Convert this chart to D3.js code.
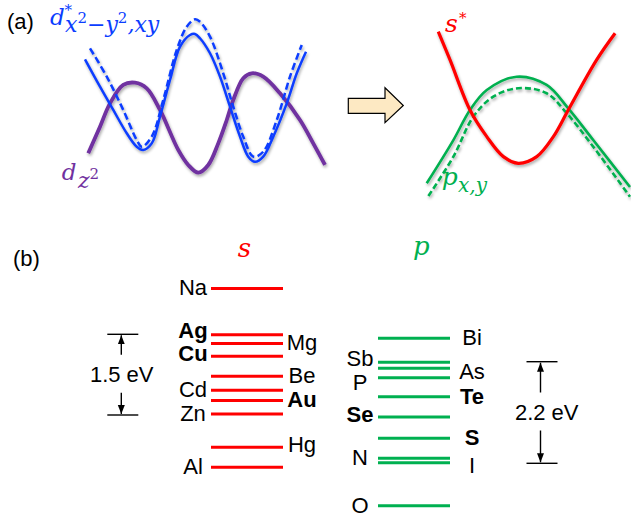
<!DOCTYPE html>
<html>
<head>
<meta charset="utf-8">
<script src="https://cdn.jsdelivr.net/npm/d3@7"></script>
<style>
  body { margin: 0; background: #fff; }
  svg { display: block; }
</style>
</head>
<body>
<div id="chart"></div>
<script>
// Panel (a): schematic bands, [k, E] in arbitrary units (0-10)
var dxySolid = [[0.2,7.54],[0.8,5.83],[1.33,4.38],[1.87,2.92],[2.27,2.08],[2.53,1.88],[2.87,2.29],[3.2,3.96],
  [3.6,6.25],[4.0,8.33],[4.4,9.06],[4.6,9.13],[4.8,8.86],[5.2,7.92],[5.6,6.46],[6.0,4.58],[6.4,2.71],
  [6.73,1.46],[7.0,1.14],[7.33,1.46],[7.73,2.71],[8.27,4.79],[8.67,6.67],[9.04,8.02]];
var dxyDashed = [[0.4,8.23],[1.07,6.46],[1.73,4.38],[2.27,2.5],[2.47,2.08],[2.87,2.71],[3.33,5.0],[3.87,8.13],
  [4.27,9.58],[4.6,10.04],[4.8,9.89],[5.2,8.96],[5.73,6.67],[6.13,4.58],[6.53,2.71],[6.93,1.46],[7.33,1.77],
  [7.87,3.75],[8.4,6.46],[8.87,8.44]];
var dz2Band = [[0.33,1.67],[0.8,3.33],[1.2,4.79],[1.73,5.94],[2.2,6.08],[2.67,5.73],[3.2,4.38],[3.93,1.88],
  [4.33,0.94],[4.73,0.46],[5.13,0.94],[5.53,2.29],[5.87,3.75],[6.13,5.0],[6.53,6.36],[6.87,6.67],[7.33,6.46],
  [8.0,5.42],[8.8,3.75],[9.33,2.29],[9.8,0.94]];
var sBand = [[0.87,9.35],[1.43,7.78],[2.38,5.0],[3.18,3.52],[3.97,2.41],[4.68,2.04],[5.56,2.41],[6.35,3.52],
  [7.06,5.0],[8.41,7.78],[9.29,9.26]];
var pSolid = [[0.32,0.93],[1.59,3.33],[2.38,5.0],[3.18,6.11],[4.6,6.85],[6.03,6.39],[7.06,5.09],[8.25,3.33],[10,0.72]];
var pDashed = [[0.4,0.22],[1.59,2.41],[2.54,4.63],[3.49,5.74],[4.68,6.21],[6.03,5.93],[6.99,4.82],[8.25,2.96],[10,0.18]];

// Panel (b): level energies (eV)
var sNames = ["Na", "Ag", "Mg", "Cu", "Be", "Cd", "Au", "Zn", "Hg", "Al"];
var sEnergy = [2.35, 1.49, 1.33, 1.09, 0.72, 0.46, 0.27, 0.02, -0.60, -0.97];
var sSide = ["L", "L", "R", "L", "R", "L", "R", "L", "R", "L"];
var pNames = ["Bi", "Sb", "As", "P", "Te", "Se", "S", "N", "I", "O"];
var pEnergy = [2.71, 2.19, 2.06, 1.85, 1.44, 1.00, 0.54, 0.11, 0.01, -0.92];
var pSide = ["R", "L", "R", "L", "R", "L", "R", "L", "R", "L"];
var boldNames = ["Ag", "Cu", "Au", "Te", "Se", "S"];
var scaleBarEv = [1.5, 2.2];

var svgWidth = 631;
var svgHeight = 520;
var sans = "'Liberation Sans', Arial, Helvetica, sans-serif";
var serif = "'DejaVu Serif', 'Liberation Serif', serif";
var blue = "#0a3dff", purple = "#7030a0", red = "#ff0000", green = "#00b050";

var svg = d3.select("#chart").append("svg")
  .attr("width", svgWidth)
  .attr("height", svgHeight)
  .style("background", "#fff");

// soft grey shadow like the original drawing
var defs = svg.append("defs");
var filt = defs.append("filter").attr("id", "shadow")
  .attr("x", "-10%").attr("y", "-10%").attr("width", "120%").attr("height", "120%");
filt.append("feGaussianBlur").attr("in", "SourceAlpha").attr("stdDeviation", 1.6).attr("result", "blur");
filt.append("feOffset").attr("in", "blur").attr("dx", 1).attr("dy", 1.5).attr("result", "off");
filt.append("feComponentTransfer").attr("in", "off").attr("result", "soft")
  .append("feFuncA").attr("type", "linear").attr("slope", 0.35);
var merge = filt.append("feMerge");
merge.append("feMergeNode").attr("in", "soft");
merge.append("feMergeNode").attr("in", "SourceGraphic");

defs.append("marker").attr("id", "head")
  .attr("viewBox", "0 -4 9 8")
  .attr("refX", 9).attr("refY", 0)
  .attr("markerWidth", 9).attr("markerHeight", 8)
  .attr("markerUnits", "userSpaceOnUse")
  .attr("orient", "auto")
  .append("path").attr("d", "M0,-3.5L9,0L0,3.5Z").attr("fill", "#000");

// Step 1: scales
var xA = d3.scaleLinear().domain([0, 10]).range([80, 330]);
var yA = d3.scaleLinear().domain([0, 10]).range([180, 20]);
var xB = d3.scaleLinear().domain([0, 10]).range([420, 630]);
var yB = d3.scaleLinear().domain([0, 10]).range([200, 20]);
var yS = d3.scaleLinear().domain([0, scaleBarEv[0]]).range([415, 334.3]);
var yP = d3.scaleLinear().domain([0, scaleBarEv[1]]).range([463.3, 361.7]);
var colX = d3.scaleOrdinal().domain(["s", "p"]).range([211, 378]);
var colW = 72;

var lineA = d3.line().x(d => xA(d[0])).y(d => yA(d[1])).curve(d3.curveCatmullRom.alpha(0.5));
var lineB = d3.line().x(d => xB(d[0])).y(d => yB(d[1])).curve(d3.curveCatmullRom.alpha(0.5));

// Step 2: panel (a) bands
var bandsA = svg.append("g").attr("filter", "url(#shadow)").attr("fill", "none");
bandsA.append("path").attr("d", lineA(dz2Band)).attr("stroke", purple).attr("stroke-width", 3.8);
bandsA.append("path").attr("d", lineA(dxyDashed)).attr("stroke", blue).attr("stroke-width", 2.5)
  .attr("stroke-dasharray", "7,3.5");
bandsA.append("path").attr("d", lineA(dxySolid)).attr("stroke", blue).attr("stroke-width", 2.5);

var bandsB = svg.append("g").attr("filter", "url(#shadow)").attr("fill", "none");
bandsB.append("path").attr("d", lineB(pDashed)).attr("stroke", green).attr("stroke-width", 2.6)
  .attr("stroke-dasharray", "6,3");
bandsB.append("path").attr("d", lineB(pSolid)).attr("stroke", green).attr("stroke-width", 2.6);
bandsB.append("path").attr("d", lineB(sBand)).attr("stroke", red).attr("stroke-width", 3.2);

// block arrow between the two sketches
svg.append("path")
  .attr("d", "M348.3,98.3H385V87.7L403.3,105.5L385,122.7V113.3H348.3Z")
  .attr("fill", "#fde9c3")
  .attr("stroke", "#000")
  .attr("stroke-width", 1.2);

// band labels (one text element each, math set with tspans)
var it = svg.append("g").attr("font-family", serif).attr("font-style", "italic");
var t1 = it.append("text").attr("fill", blue);
t1.append("tspan").attr("x", 50).attr("y", 25).attr("font-size", 23).text("d");
t1.append("tspan").attr("x", 64.5).attr("y", 15).attr("font-size", 15).attr("font-style", "normal").text("*");
t1.append("tspan").attr("x", 65).attr("y", 32).attr("font-size", 22).text("x");
t1.append("tspan").attr("font-size", 15).attr("font-style", "normal").attr("dy", -9).text("2");
t1.append("tspan").attr("font-size", 22).attr("dy", 9).text("\u2212y");
t1.append("tspan").attr("font-size", 15).attr("font-style", "normal").attr("dy", -9).text("2");
t1.append("tspan").attr("font-size", 22).attr("dy", 9).text(",xy");

var t2 = it.append("text").attr("fill", purple);
t2.append("tspan").attr("x", 61.7).attr("y", 180).attr("font-size", 23).text("d");
t2.append("tspan").attr("x", 78).attr("y", 188).attr("font-size", 22).text("z");
t2.append("tspan").attr("dy", -9).attr("font-size", 15).attr("font-style", "normal").text("2");

var t3 = it.append("text").attr("fill", red);
t3.append("tspan").attr("x", 445).attr("y", 31.7).attr("font-size", 25).text("s");
t3.append("tspan").attr("x", 459).attr("y", 23).attr("font-size", 15).attr("font-style", "normal").text("*");

var t4 = it.append("text").attr("fill", green);
t4.append("tspan").attr("x", 441.7).attr("y", 185).attr("font-size", 25).text("p");
t4.append("tspan").attr("x", 458).attr("y", 191.7).attr("font-size", 20).text("x,y");

// panel letters
svg.append("text").attr("x", 7).attr("y", 29).attr("font-family", sans).attr("font-size", 22).text("(a)");
svg.append("text").attr("x", 13).attr("y", 265.6).attr("font-family", sans).attr("font-size", 22).text("(b)");

// Step 3: panel (b) column headers
it.append("text").attr("x", colX("s") + colW / 2 - 2.5).attr("y", 256.7).attr("text-anchor", "middle")
  .attr("font-size", 26).attr("fill", red).text("s");
it.append("text").attr("x", colX("p") + colW / 2 + 7.3).attr("y", 255).attr("text-anchor", "middle")
  .attr("font-size", 26).attr("fill", green).text("p");

// Step 4: energy levels
var nudge = { Ag: -4, Cu: -2, Hg: -2, Sb: -2.5, As: 4, P: 5, I: 3, Se: -2 };

function drawLevels(col, names, energy, side, yScale, color, leftX, rightX) {
  var data = names.map((n, i) => ({ name: n, e: energy[i], side: side[i] }));
  var g = svg.append("g");
  g.selectAll("line").data(data).enter().append("line")
    .attr("x1", colX(col)).attr("x2", colX(col) + colW)
    .attr("y1", d => yScale(d.e)).attr("y2", d => yScale(d.e))
    .attr("stroke", color).attr("stroke-width", 3);
  g.selectAll("text").data(data).enter().append("text")
    .attr("x", d => d.side === "L" ? leftX : rightX)
    .attr("y", d => yScale(d.e) + 6.8 + (nudge[d.name] || 0))
    .attr("text-anchor", "middle")
    .attr("font-family", sans).attr("font-size", 22)
    .attr("font-weight", d => boldNames.indexOf(d.name) >= 0 ? "bold" : "normal")
    .text(d => d.name);
}
drawLevels("s", sNames, sEnergy, sSide, yS, red, 193, 302);
drawLevels("p", pNames, pEnergy, pSide, yP, green, 360, 472);

// Step 5: scale bars
function scaleBar(cx, yScale, ev, tx) {
  var top = yScale(ev), bot = yScale(0), mid = (top + bot) / 2;
  var g = svg.append("g").attr("stroke", "#000").attr("stroke-width", 1.4);
  g.append("line").attr("x1", cx - 15.5).attr("x2", cx + 15.5).attr("y1", top).attr("y2", top);
  g.append("line").attr("x1", cx - 15.5).attr("x2", cx + 15.5).attr("y1", bot).attr("y2", bot);
  g.append("line").attr("x1", cx - 1.5).attr("x2", cx - 1.5).attr("y1", mid - 20).attr("y2", top + 1)
    .attr("marker-end", "url(#head)");
  g.append("line").attr("x1", cx - 1.5).attr("x2", cx - 1.5).attr("y1", mid + 18).attr("y2", bot - 1)
    .attr("marker-end", "url(#head)");
  svg.append("text").attr("x", tx).attr("y", mid + 7.8).attr("text-anchor", "middle")
    .attr("font-family", sans).attr("font-size", 22).text(ev + " eV");
}
scaleBar(122.8, yS, scaleBarEv[0], 121.7);
scaleBar(542, yP, scaleBarEv[1], 546.7);
</script>
</body>
</html>
